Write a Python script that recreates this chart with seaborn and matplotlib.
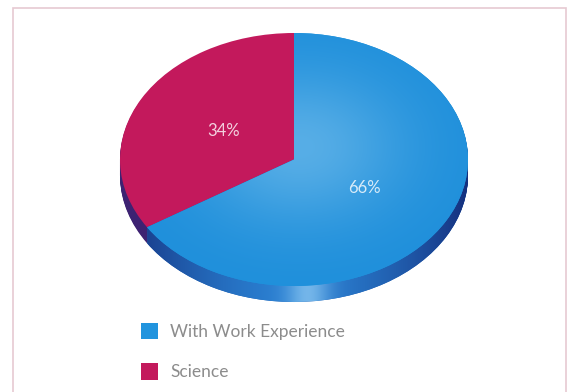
import numpy as np
import matplotlib
matplotlib.use("Agg")
import matplotlib.pyplot as plt
import seaborn as sns
from matplotlib.patches import Rectangle
from matplotlib.colors import to_rgb

# Slices, drawn counter-clockwise from 12 o'clock
categories = ["Science", "With Work Experience"]
shares = [34, 66]
legend_order = ["With Work Experience", "Science"]

sns.set_theme(style="white")
plt.rcParams["font.family"] = ["Lato", "DejaVu Sans"]

W, H = 572, 392
fig = plt.figure(figsize=(W / 100, H / 100), dpi=100)
fig.patch.set_facecolor("white")


def box(x0, y0, x1, y1):
    """Figure-fraction rectangle from pixel corners (origin top-left)."""
    return [x0 / W, 1 - y1 / H, (x1 - x0) / W, (y1 - y0) / H]


top_colors = {"Science": "#c3195c", "With Work Experience": "#2194de"}
side_colors = {"Science": "#3d2272", "With Work Experience": "#1e5fb4"}

# Tilted pie: ellipse top face plus a rim below it
x0, x1 = 120, 468
ytop, ybot = 33, 286
depth_px = 16
ax = fig.add_axes(box(x0, ytop, x1, ybot + depth_px))
unit = 2 / (ybot - ytop)
depth = depth_px * unit

# Shading for the blue rim: dark at the sides, lighter towards the front
n = 400
gx, gy = np.meshgrid(np.linspace(-1, 1, n), np.linspace(-1 - depth, 1, n))
navy = np.array(to_rgb("#15307e"))
mid = np.array(to_rgb("#2a80d2"))
shine = np.array(to_rgb("#8cc8f2"))
s = np.clip(1 - np.abs(gx) ** 1.6, 0, 1)[..., None]
rim = navy * (1 - s) + mid * s
h = np.exp(-((gx - 0.08) / 0.12) ** 2)[..., None] * 0.75
rim = rim * (1 - h) + shine * h

layers = np.linspace(depth, 0, 18)[:-1]
for d in layers:
    ws, _ = ax.pie(shares, colors=[side_colors[c] for c in categories],
                   startangle=90, counterclock=True, center=(0, -d), radius=1,
                   wedgeprops=dict(linewidth=0))
    im = ax.imshow(rim, extent=(-1, 1, -1 - depth, 1), origin="lower",
                   aspect="auto", zorder=ws[1].get_zorder() + 0.05,
                   interpolation="bilinear")
    im.set_clip_path(ws[1])

wedges, _, autotexts = ax.pie(
    shares, colors=[top_colors[c] for c in categories],
    startangle=90, counterclock=True, center=(0, 0), radius=1,
    autopct=lambda p: f"{p:.0f}%", pctdistance=0.46,
    wedgeprops=dict(linewidth=0, zorder=5),
    textprops=dict(color="white", fontsize=12, alpha=0.8))

# Soft highlight on the blue face
gx, gy = np.meshgrid(np.linspace(-1, 1, n), np.linspace(-1, 1, n))
r2 = ((gx - 0.03) / 0.8) ** 2 + ((gy - 0.1) / 0.8) ** 2
t = (np.exp(-r2 * 1.8) * 0.75)[..., None]
edge = np.array(to_rgb("#1e8fdb"))
centre = np.array(to_rgb("#6ab8ea"))
img = edge * (1 - t) + centre * t
im = ax.imshow(img, extent=(-1, 1, -1, 1), origin="lower", aspect="auto",
               zorder=6, interpolation="bilinear")
im.set_clip_path(wedges[1])
for txt in autotexts:
    txt.set_zorder(10)

ax.set_aspect("auto")
ax.set_xlim(-1, 1)
ax.set_ylim(-1 - depth, 1)
ax.axis("off")

# Legend
handles = [Rectangle((0, 0), 1, 1, facecolor=top_colors[c], edgecolor="none")
           for c in legend_order]
fig.legend(handles, legend_order, loc="upper left",
           bbox_to_anchor=(141 / W, 1 - 323 / H), frameon=False,
           fontsize=12.5, handlelength=1.0, handleheight=1.05,
           handletextpad=0.68, labelspacing=1.35, labelcolor="#8c8c8c",
           borderaxespad=0, borderpad=0)

# Thin frame around the chart
fig.add_artist(Rectangle((13 / W, -0.05), (566 - 13) / W, 1 - 8 / H + 0.05,
                         transform=fig.transFigure, fill=False,
                         edgecolor="#e6c9d2", linewidth=1.2))

fig.savefig("out.png", dpi=100)
